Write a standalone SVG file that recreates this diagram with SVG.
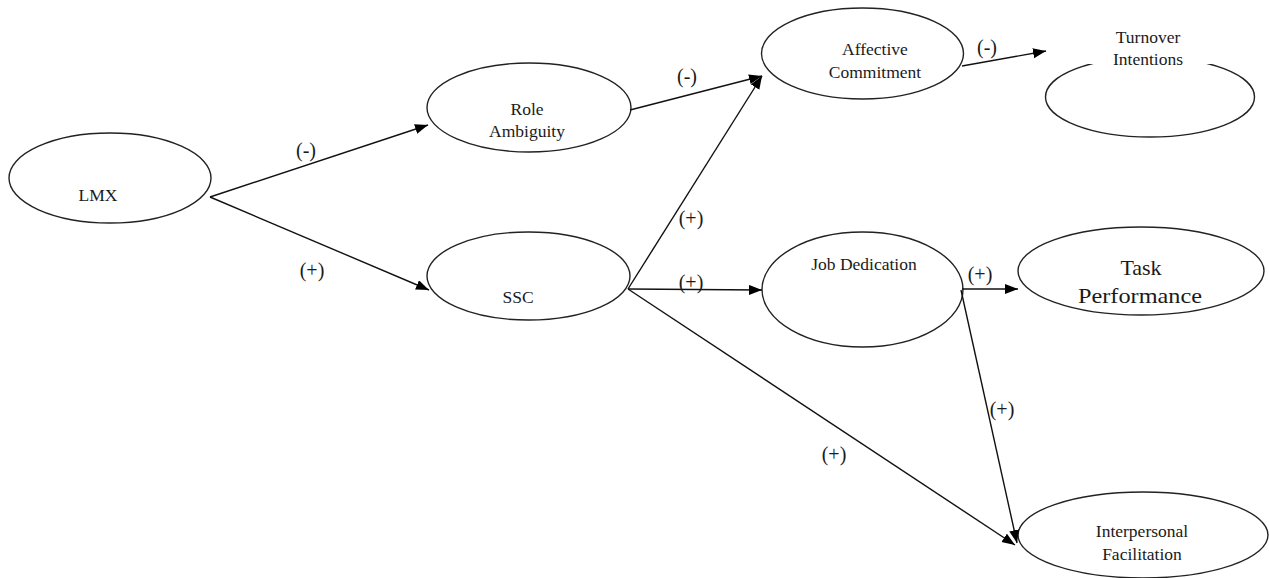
<svg xmlns="http://www.w3.org/2000/svg" width="1269" height="578" viewBox="0 0 1269 578">
<style>
.n{fill:#fff;stroke:#222;stroke-width:1.4}
.t{font-family:"Liberation Serif","Times New Roman",serif;font-size:17.5px;fill:#1a1a1a;text-anchor:middle}
.big{font-size:22px}
.c{stroke:#111;stroke-width:1.4;fill:none;marker-end:url(#ah)}
.l{font-family:"Liberation Serif","Times New Roman",serif;font-size:20px;fill:#1a1a1a;text-anchor:middle}
</style>
<defs>
<marker id="ah" markerUnits="userSpaceOnUse" markerWidth="14" markerHeight="11" refX="13" refY="5" orient="auto">
<path d="M0,0 L13,5 L0,10 Z" fill="#000"/>
</marker>
</defs>
<rect width="1269" height="578" fill="#fff"/>
<g id="nodes">
<g id="lmx"><ellipse class="n" cx="110" cy="178" rx="101" ry="45"/><text class="t" x="98" y="201">LMX</text></g>
<g id="role-ambiguity"><ellipse class="n" cx="529" cy="107.5" rx="102" ry="44.5"/><text class="t" x="527" y="115">Role</text><text class="t" x="527" y="137">Ambiguity</text></g>
<g id="ssc"><ellipse class="n" cx="528.5" cy="276" rx="101.5" ry="44"/><text class="t" x="518" y="303">SSC</text></g>
<g id="affective-commitment"><ellipse class="n" cx="862.5" cy="53.5" rx="101" ry="45.5"/><text class="t" x="875" y="55">Affective</text><text class="t" x="875" y="78">Commitment</text></g>
<g id="turnover-intentions"><ellipse class="n" cx="1150" cy="97" rx="104.5" ry="40"/><rect x="1083" y="22" width="129" height="42" fill="#fff"/><text class="t" x="1148" y="43">Turnover</text><text class="t" x="1148" y="65">Intentions</text></g>
<g id="job-dedication"><ellipse class="n" cx="862.5" cy="289.5" rx="100.5" ry="57.5"/><text class="t" x="864" y="270">Job Dedication</text></g>
<g id="task-performance"><ellipse class="n" cx="1141" cy="271" rx="123" ry="44"/><text class="t big" x="1141" y="275">Task</text><text class="t big" x="1140" y="303" textLength="124" lengthAdjust="spacingAndGlyphs">Performance</text></g>
<g id="interpersonal-facilitation"><ellipse class="n" cx="1143" cy="535" rx="125" ry="43"/><text class="t" x="1142" y="537">Interpersonal</text><text class="t" x="1142" y="560">Facilitation</text></g>
</g>
<g id="connectors">
<line class="c" x1="210" y1="197" x2="428" y2="125"/>
<line class="c" x1="210" y1="197" x2="429" y2="290"/>
<line class="c" x1="630" y1="110" x2="762" y2="76"/>
<line class="c" x1="628" y1="289" x2="762" y2="76"/>
<line class="c" x1="628" y1="289" x2="762" y2="290"/>
<line class="c" x1="628" y1="289" x2="1015" y2="545"/>
<line class="c" x1="962" y1="66" x2="1046" y2="51"/>
<line class="c" x1="962" y1="289" x2="1018" y2="289"/>
<line class="c" x1="961" y1="290" x2="1017" y2="543"/>
<text class="l" x="306" y="157">(-)</text>
<text class="l" x="312" y="277">(+)</text>
<text class="l" x="687" y="83">(-)</text>
<text class="l" x="691" y="225">(+)</text>
<text class="l" x="691" y="289">(+)</text>
<text class="l" x="834" y="461">(+)</text>
<text class="l" x="987" y="54">(-)</text>
<text class="l" x="980" y="281">(+)</text>
<text class="l" x="1002" y="416">(+)</text>
</g>
</svg>
